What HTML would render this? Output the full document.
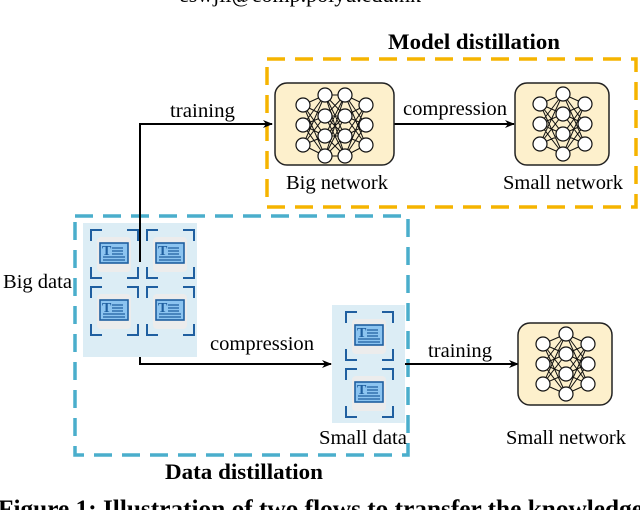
<!DOCTYPE html>
<html><head><meta charset="utf-8"><style>
html,body{margin:0;padding:0;background:#fff;width:640px;height:510px;overflow:hidden}
svg text{font-family:"Liberation Serif",serif}
</style></head><body>
<svg width="640" height="510" viewBox="0 0 640 510" xmlns="http://www.w3.org/2000/svg">
<defs>
<marker id="ar" markerWidth="10" markerHeight="10" refX="9" refY="5" orient="auto" markerUnits="userSpaceOnUse"><path d="M0,1 L10,5 L0,9 L3,5 Z" fill="#000"/></marker>
<g id="br">
<path d="M0,11 V0 H11 M36,0 H47 V11 M47,37 V48 H36 M11,48 H0 V37" fill="none" stroke="#1f5fa0" stroke-width="2"/>
<rect x="6" y="7" width="34" height="35" rx="4" fill="#ececec"/>
<rect x="9" y="13" width="28" height="20" fill="#8cc4f0" stroke="#1f5fa0" stroke-width="1.6"/>
<path d="M21,18 H32 M21,21 H32 M21,24 H32 M12,27 H34 M12,30 H34" stroke="#1f5fa0" stroke-width="1.2"/>
</g>
</defs>
<text x="300" y="2" font-size="22" text-anchor="middle">cswjli@comp.polyu.edu.hk</text>
<text x="388" y="49" font-size="22" font-weight="bold" textLength="172" lengthAdjust="spacingAndGlyphs">Model distillation</text>
<rect x="267" y="59" width="369" height="148" fill="none" stroke="#f5b400" stroke-width="3.5" stroke-dasharray="18,10"/>
<rect x="75" y="216" width="333" height="239" fill="none" stroke="#4aaecc" stroke-width="3.5" stroke-dasharray="18,10"/>
<text x="165" y="479" font-size="22" font-weight="bold" textLength="158" lengthAdjust="spacingAndGlyphs">Data distillation</text>
<!-- big data -->
<rect x="83" y="223" width="114" height="134" fill="#dcedf5"/>
<use href="#br" x="91" y="230"/><use href="#br" x="147" y="230"/>
<use href="#br" x="91" y="287"/><use href="#br" x="147" y="287"/>
<!-- small data -->
<rect x="332" y="305" width="73" height="118" fill="#dcedf5"/>
<use href="#br" x="346" y="312"/><use href="#br" x="346" y="369"/>
<g font-size="14" font-weight="bold" fill="#1f5fa0">
<text x="102" y="255">T</text><text x="158" y="255">T</text><text x="102" y="312">T</text><text x="158" y="312">T</text>
<text x="357" y="337">T</text><text x="357" y="394">T</text></g>
<text x="3" y="288" font-size="20" textLength="69" lengthAdjust="spacingAndGlyphs">Big data</text>
<text x="319" y="444" font-size="20" textLength="88" lengthAdjust="spacingAndGlyphs">Small data</text>
<!-- arrows -->
<path d="M140,262 V124 H272" fill="none" stroke="#000" stroke-width="2" marker-end="url(#ar)"/>
<text x="170" y="117" font-size="20" textLength="65" lengthAdjust="spacingAndGlyphs">training</text>
<path d="M394,124 H514" fill="none" stroke="#000" stroke-width="2" marker-end="url(#ar)"/>
<text x="403" y="115" font-size="20" textLength="104" lengthAdjust="spacingAndGlyphs">compression</text>
<path d="M140,357 V364 H331" fill="none" stroke="#000" stroke-width="2" marker-end="url(#ar)"/>
<text x="210" y="350" font-size="20" textLength="104" lengthAdjust="spacingAndGlyphs">compression</text>
<path d="M405,364 H518" fill="none" stroke="#000" stroke-width="2" marker-end="url(#ar)"/>
<text x="428" y="357" font-size="20" textLength="64" lengthAdjust="spacingAndGlyphs">training</text>
<!-- big network -->
<rect x="275" y="83" width="119" height="82" rx="12" fill="#fdf0cc" stroke="#222" stroke-width="1.5"/>
<g stroke="#111" stroke-width="1" fill="none">
<path d="M303,105 L325,95 M303,105 L325,116 M303,105 L325,136 M303,105 L325,156 M303,125 L325,95 M303,125 L325,116 M303,125 L325,136 M303,125 L325,156 M303,145 L325,95 M303,145 L325,116 M303,145 L325,136 M303,145 L325,156"/>
<path d="M325,95 L345,95 M325,95 L345,116 M325,95 L345,136 M325,95 L345,156 M325,116 L345,95 M325,116 L345,116 M325,116 L345,136 M325,116 L345,156 M325,136 L345,95 M325,136 L345,116 M325,136 L345,136 M325,136 L345,156 M325,156 L345,95 M325,156 L345,116 M325,156 L345,136 M325,156 L345,156"/>
<path d="M345,95 L366,105 M345,95 L366,125 M345,95 L366,145 M345,116 L366,105 M345,116 L366,125 M345,116 L366,145 M345,136 L366,105 M345,136 L366,125 M345,136 L366,145 M345,156 L366,105 M345,156 L366,125 M345,156 L366,145"/>
</g>
<g fill="#fff" stroke="#111" stroke-width="1.2">
<circle cx="303" cy="105" r="7"/><circle cx="303" cy="125" r="7"/><circle cx="303" cy="145" r="7"/>
<circle cx="325" cy="95" r="7"/><circle cx="325" cy="116" r="7"/><circle cx="325" cy="136" r="7"/><circle cx="325" cy="156" r="7"/>
<circle cx="345" cy="95" r="7"/><circle cx="345" cy="116" r="7"/><circle cx="345" cy="136" r="7"/><circle cx="345" cy="156" r="7"/>
<circle cx="366" cy="105" r="7"/><circle cx="366" cy="125" r="7"/><circle cx="366" cy="145" r="7"/>
</g>
<text x="286" y="189" font-size="20" textLength="102" lengthAdjust="spacingAndGlyphs">Big network</text>
<!-- small network top -->
<g id="sn">
<rect x="515" y="83" width="94" height="82" rx="12" fill="#fdf0cc" stroke="#222" stroke-width="1.5"/>
<path d="M540,104 L563,94 M540,104 L563,114 M540,104 L563,134 M540,104 L563,154 M540,124 L563,94 M540,124 L563,114 M540,124 L563,134 M540,124 L563,154 M540,144 L563,94 M540,144 L563,114 M540,144 L563,134 M540,144 L563,154 M563,94 L585,104 M563,94 L585,124 M563,94 L585,144 M563,114 L585,104 M563,114 L585,124 M563,114 L585,144 M563,134 L585,104 M563,134 L585,124 M563,134 L585,144 M563,154 L585,104 M563,154 L585,124 M563,154 L585,144" stroke="#111" stroke-width="1" fill="none"/>
<g fill="#fff" stroke="#111" stroke-width="1.2">
<circle cx="540" cy="104" r="7"/><circle cx="540" cy="124" r="7"/><circle cx="540" cy="144" r="7"/>
<circle cx="563" cy="94" r="7"/><circle cx="563" cy="114" r="7"/><circle cx="563" cy="134" r="7"/><circle cx="563" cy="154" r="7"/>
<circle cx="585" cy="104" r="7"/><circle cx="585" cy="124" r="7"/><circle cx="585" cy="144" r="7"/>
</g></g>
<text x="503" y="189" font-size="20" textLength="120" lengthAdjust="spacingAndGlyphs">Small network</text>
<use href="#sn" x="3" y="240"/>
<text x="506" y="444" font-size="20" textLength="120" lengthAdjust="spacingAndGlyphs">Small network</text>
<text x="-2" y="517" font-size="25" font-weight="bold" textLength="645" lengthAdjust="spacingAndGlyphs">Figure 1: Illustration of two flows to transfer the knowledge</text>
</svg>
</body></html>
